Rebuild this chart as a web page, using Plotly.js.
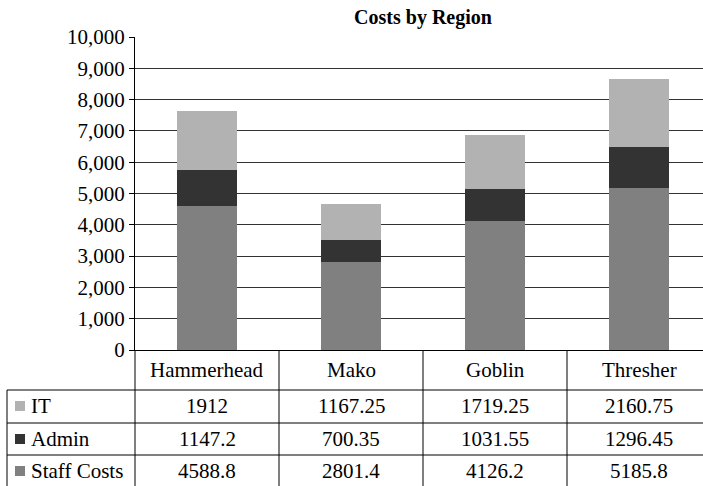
<!DOCTYPE html>
<html>
<head>
<meta charset="utf-8">
<script src="https://cdn.plot.ly/plotly-3.0.1.min.js"></script>
<style>
html, body { margin:0; padding:0; overflow:hidden; background:#fff; }
#chart { width:711px; height:486px; }
</style>
</head>
<body>
<div id="chart"></div>
<script>
const regions = ["Hammerhead", "Mako", "Goblin", "Thresher"];
const seriesNames = ["IT", "Admin", "Staff Costs"];
const itValues = [1912, 1167.25, 1719.25, 2160.75];
const adminValues = [1147.2, 700.35, 1031.55, 1296.45];
const staffValues = [4588.8, 2801.4, 4126.2, 5185.8];
const yTickValues = [0, 1000, 2000, 3000, 4000, 5000, 6000, 7000, 8000, 9000, 10000];

const colors = { "IT": "#b2b2b2", "Admin": "#333333", "Staff Costs": "#808080" };
const FONT = "'Liberation Serif', 'DejaVu Serif', serif";
const FS = 21;
const W = 711, H = 486, L = 135, T = 37, B = 136;
const plotH = H - T - B, plotW = W - L;
const py = p => (H - B - p) / plotH;       // pixel y -> paper y
const px = p => (p - L) / plotW;           // pixel x -> paper x

const traces = [
  { name: "Staff Costs", values: staffValues },
  { name: "Admin", values: adminValues },
  { name: "IT", values: itValues }
].map(s => ({
  type: "bar", x: regions, y: s.values, name: s.name,
  marker: { color: colors[s.name], line: { width: 0 } },
  hoverinfo: "skip"
}));

const shapes = [];
const annotations = [];
const lineStyle = { color: "#000", width: 1 };
[390, 423, 455].forEach(yy => shapes.push({ type: "line", xref: "paper", yref: "paper",
  x0: px(7), x1: 1.02, y0: py(yy), y1: py(yy), line: lineStyle }));
shapes.push({ type: "line", xref: "paper", yref: "paper", x0: px(7), x1: px(7), y0: py(390), y1: py(490), line: lineStyle });
shapes.push({ type: "line", xref: "paper", yref: "paper", x0: 0, x1: 0, y0: 0, y1: py(490), line: lineStyle });
for (let i = 0; i < regions.length - 1; i++) {
  shapes.push({ type: "line", xref: "x", yref: "paper", x0: i + 0.5, x1: i + 0.5, y0: 0, y1: py(490), line: lineStyle });
}
regions.forEach(r => annotations.push({ x: r, xref: "x", yref: "paper", y: py(370), text: r,
  showarrow: false, font: { family: FONT, size: FS, color: "#000" }, yanchor: "middle" }));
const rowData = [
  { name: "IT", values: itValues, y: 406 },
  { name: "Admin", values: adminValues, y: 439 },
  { name: "Staff Costs", values: staffValues, y: 471 }
];
rowData.forEach(row => {
  shapes.push({ type: "rect", xref: "paper", yref: "paper", x0: px(15), x1: px(25),
    y0: py(row.y - 5), y1: py(row.y + 5), fillcolor: colors[row.name], line: { width: 0 } });
  annotations.push({ xref: "paper", yref: "paper", x: px(29), y: py(row.y), text: row.name,
    xanchor: "left", yanchor: "middle", showarrow: false, font: { family: FONT, size: FS, color: "#000" } });
  row.values.forEach((v, i) => annotations.push({ x: regions[i], xref: "x", yref: "paper", y: py(row.y),
    text: String(v), showarrow: false, yanchor: "middle", font: { family: FONT, size: FS, color: "#000" } }));
});

const layout = {
  width: W, height: H,
  margin: { l: L, r: 0, t: T, b: B, pad: 0 },
  paper_bgcolor: "#fff", plot_bgcolor: "#fff",
  barmode: "stack", bargap: 0.59,
  showlegend: false,
  title: { text: "<b>Costs by Region</b>", font: { family: FONT, size: 20, color: "#000" },
    x: 0.5 + (L / 2) / W, xanchor: "center", y: 1 - 17 / H, yanchor: "middle" },
  xaxis: { type: "category", range: [-0.5, 3.5], showticklabels: false, showgrid: false,
    zeroline: false, showline: true, linecolor: "#000", linewidth: 1, ticks: "" },
  yaxis: { range: [0, 10000], tickvals: yTickValues, tickformat: ",", showgrid: true,
    gridcolor: "#333", gridwidth: 1, zeroline: false, showline: true, linecolor: "#000", linewidth: 1,
    ticks: "outside", ticklen: 5, tickcolor: "#000", tickfont: { family: FONT, size: FS, color: "#000" } },
  shapes: shapes, annotations: annotations,
  font: { family: FONT }
};

Plotly.newPlot("chart", traces, layout, { staticPlot: true, displayModeBar: false });
</script>
</body>
</html>
